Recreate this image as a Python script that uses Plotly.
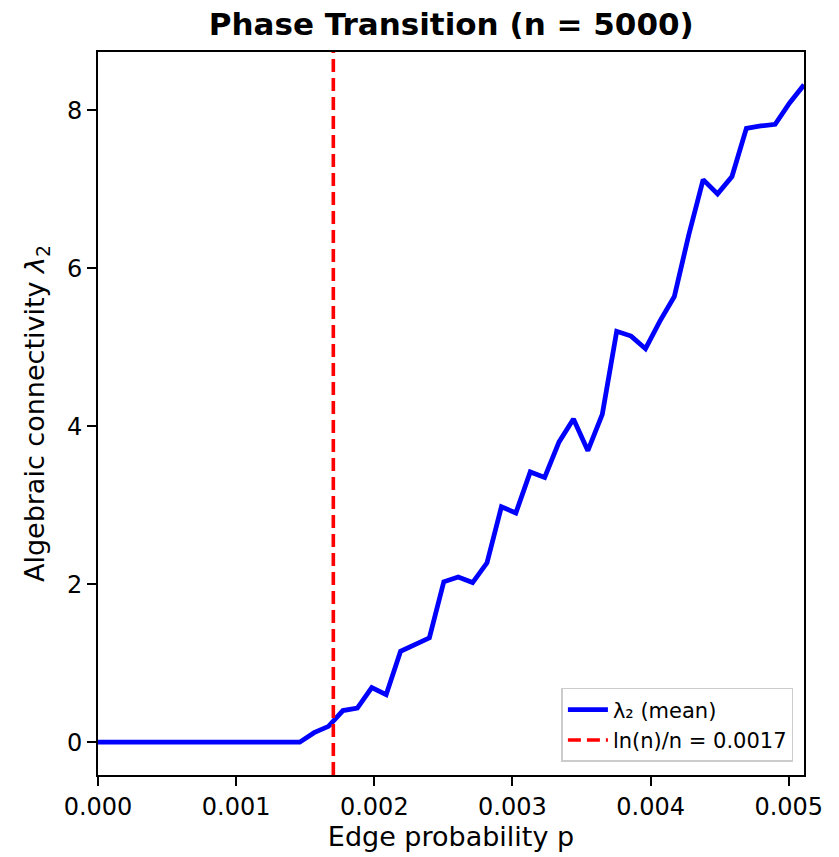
import math
import plotly.graph_objects as go

n_nodes = 5000

# edge probabilities sampled (0 .. 3 ln(n)/n, 50 steps)
p_values = [
    0.0000000, 0.0001043, 0.0002086, 0.0003129, 0.0004172, 0.0005215, 0.0006258,
    0.0007300, 0.0008343, 0.0009386, 0.0010429, 0.0011472, 0.0012515, 0.0013558,
    0.0014601, 0.0015644, 0.0016687, 0.0017730, 0.0018773, 0.0019816, 0.0020858,
    0.0021901, 0.0022944, 0.0023987, 0.0025030, 0.0026073, 0.0027116, 0.0028159,
    0.0029202, 0.0030245, 0.0031288, 0.0032331, 0.0033374, 0.0034416, 0.0035459,
    0.0036502, 0.0037545, 0.0038588, 0.0039631, 0.0040674, 0.0041717, 0.0042760,
    0.0043803, 0.0044846, 0.0045889, 0.0046932, 0.0047974, 0.0049017, 0.0050060,
    0.0051103,
]

# mean algebraic connectivity (second-smallest Laplacian eigenvalue)
lambda2_mean = [
    0.00, 0.00, 0.00, 0.00, 0.00, 0.00, 0.00, 0.00, 0.00, 0.00,
    0.00, 0.00, 0.00, 0.00, 0.00, 0.12, 0.20, 0.40, 0.43, 0.69,
    0.60, 1.15, 1.24, 1.32, 2.03, 2.09, 2.02, 2.27, 2.98, 2.90,
    3.42, 3.35, 3.80, 4.09, 3.69, 4.15, 5.20, 5.14, 4.98, 5.33,
    5.64, 6.42, 7.12, 6.94, 7.16, 7.77, 7.80, 7.82, 8.09, 8.32,
]

x_ticks = [0.000, 0.001, 0.002, 0.003, 0.004, 0.005]
y_ticks = [0, 2, 4, 6, 8]

threshold = math.log(n_nodes) / n_nodes

ymin, ymax = min(lambda2_mean), max(lambda2_mean)
pad = 0.05 * (ymax - ymin)
y_range = [ymin - pad, ymax + pad]

FONT = "DejaVu Sans"

fig = go.Figure()

fig.add_trace(go.Scatter(
    x=p_values, y=lambda2_mean, mode="lines",
    name="λ₂ (mean)",
    line=dict(color="#0000ff", width=4.8),
))

fig.add_trace(go.Scatter(
    x=[threshold, threshold], y=y_range, mode="lines",
    name=f"ln(n)/n = {threshold:.4f}",
    line=dict(color="#ff0000", width=3.6, dash="13px,6px"),
))

axis_common = dict(
    showgrid=False, zeroline=False,
    showline=True, linecolor="black", linewidth=2, mirror=True,
    ticks="outside", ticklen=9, tickwidth=2, tickcolor="black",
    tickfont=dict(family=FONT, size=24, color="black"),
)

fig.update_layout(
    width=839, height=857,
    paper_bgcolor="white", plot_bgcolor="white",
    margin=dict(l=98, r=34.5, t=51.5, b=81.6, autoexpand=False),
    title=dict(
        text="<b>Phase Transition (n = 5000)</b>",
        font=dict(family=FONT, size=31, color="black"),
        x=0.5 * (98 + 804.5) / 839, xanchor="center",
        y=1 - 24 / 857, yanchor="middle",
    ),
    xaxis=dict(
        range=[0, max(p_values)],
        tickvals=x_ticks, tickformat=".3f",
        title=dict(text="Edge probability p",
                   font=dict(family=FONT, size=27, color="black"),
                   standoff=6),
        **axis_common,
    ),
    yaxis=dict(
        range=y_range,
        tickvals=y_ticks,
        title=dict(text="Algebraic connectivity <i>λ</i><sub>2</sub>",
                   font=dict(family=FONT, size=27, color="black"),
                   standoff=14),
        **axis_common,
    ),
    legend=dict(
        x=0.985, xanchor="right", y=0.018, yanchor="bottom",
        bgcolor="rgba(255,255,255,0.8)",
        bordercolor="#cccccc", borderwidth=1.5,
        font=dict(family=FONT, size=21, color="black"),
        itemwidth=40,
    ),
    showlegend=True,
)

fig.write_html("out.html")
